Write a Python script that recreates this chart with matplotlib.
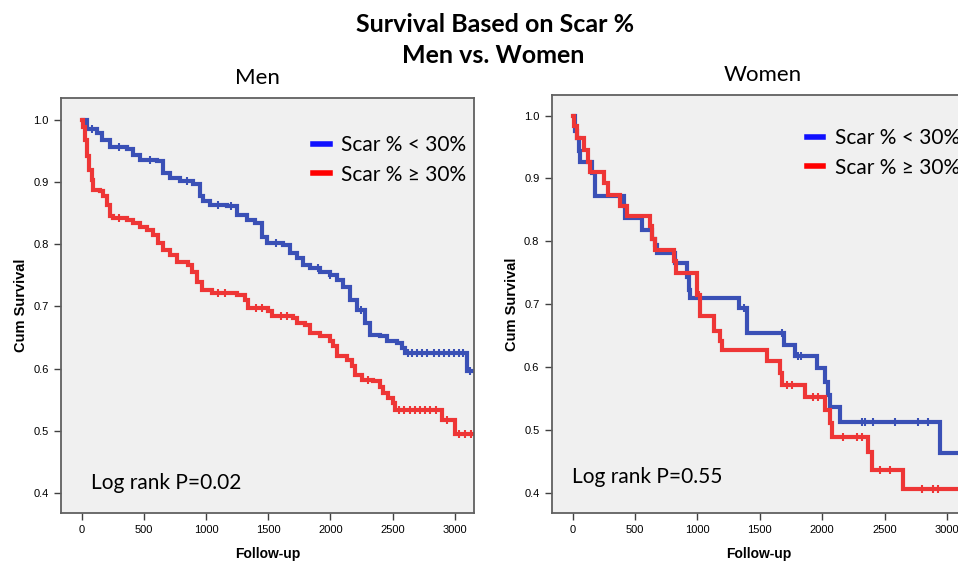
# Kaplan-Meier survival by scar %, men vs women
import numpy as np
import matplotlib.pyplot as plt
from matplotlib.lines import Line2D

# --- Men, scar % < 30%
men_lo_t = [13, 45, 120, 160, 228, 362, 415, 469, 603, 656, 710, 790, 897, 951, 978, 1031,
            1166, 1246, 1326, 1393, 1447, 1487, 1621, 1675, 1728, 1782, 1835, 1916, 1996, 2050,
            2103, 2157, 2210, 2277, 2317, 2398, 2452, 2532, 2572, 2599, 3095]
men_lo_s = [1.0, 0.985, 0.979, 0.968, 0.957, 0.953, 0.944, 0.936, 0.933, 0.914, 0.906, 0.901,
            0.896, 0.877, 0.869, 0.863, 0.861, 0.847, 0.839, 0.834, 0.812, 0.802, 0.799, 0.786,
            0.778, 0.767, 0.762, 0.756, 0.751, 0.743, 0.732, 0.711, 0.695, 0.673, 0.654, 0.652,
            0.644, 0.641, 0.633, 0.625, 0.597]
men_lo_cens = [80, 300, 550, 850, 1100, 1200, 1560, 1900, 2000, 2250, 2620, 2660, 2700, 2740,
               2780, 2830, 2870, 2910, 2950, 2990, 3030, 3070, 3120]

# --- Men, scar % >= 30%
men_hi_t = [0, 13, 27, 45, 61, 80, 93, 147, 174, 201, 228, 254, 362, 415, 469, 522, 576, 616,
            656, 710, 764, 857, 884, 924, 964, 1045, 1246, 1313, 1340, 1500, 1527, 1701, 1728,
            1795, 1835, 1916, 1996, 2023, 2050, 2130, 2170, 2197, 2251, 2344, 2398, 2425, 2465,
            2505, 2518, 2894, 3001]
men_hi_s = [1.0, 0.989, 0.968, 0.941, 0.920, 0.904, 0.887, 0.885, 0.877, 0.863, 0.845, 0.842,
            0.839, 0.834, 0.828, 0.823, 0.815, 0.802, 0.791, 0.783, 0.772, 0.767, 0.756, 0.740,
            0.727, 0.721, 0.719, 0.711, 0.697, 0.692, 0.684, 0.681, 0.673, 0.670, 0.657, 0.652,
            0.644, 0.636, 0.620, 0.614, 0.604, 0.590, 0.582, 0.580, 0.571, 0.561, 0.553, 0.545,
            0.533, 0.518, 0.495]
men_hi_cens = [300, 1100, 1150, 1400, 1450, 1600, 1650, 2300, 2550, 2590, 2640, 2680, 2720,
               2760, 2800, 2850, 2940, 3030, 3080, 3130]

# --- Women, scar % < 30%
wom_lo_t = [14, 22, 35, 48, 62, 155, 182, 408, 422, 555, 635, 662, 676, 822, 916, 929, 942,
            1337, 1396, 1690, 1783, 1957, 2023, 2050, 2063, 2143, 2943]
wom_lo_s = [1.0, 0.975, 0.964, 0.943, 0.927, 0.909, 0.872, 0.856, 0.837, 0.818, 0.803, 0.795,
            0.781, 0.765, 0.744, 0.723, 0.710, 0.694, 0.654, 0.635, 0.617, 0.598, 0.577, 0.556,
            0.537, 0.513, 0.463]
wom_lo_cens = [1370, 1676, 1810, 1828, 2316, 2343, 2410, 2584, 2771, 2851]

# --- Women, scar % >= 30%
wom_hi_t = [3, 14, 35, 88, 120, 136, 248, 280, 382, 435, 622, 635, 662, 809, 830, 996, 1017,
            1129, 1182, 1196, 1556, 1663, 1676, 1863, 2023, 2063, 2076, 2370, 2397, 2650]
wom_hi_s = [1.0, 0.983, 0.964, 0.946, 0.927, 0.911, 0.893, 0.874, 0.856, 0.840, 0.824, 0.803,
            0.787, 0.768, 0.750, 0.715, 0.681, 0.658, 0.641, 0.627, 0.609, 0.590, 0.572, 0.553,
            0.532, 0.511, 0.489, 0.465, 0.436, 0.406]
wom_hi_cens = [1010, 1716, 1756, 1930, 1970, 2170, 2277, 2317, 2464, 2544, 2797, 2890, 2930]

blue = '#3a50b6'
red = '#ee3636'
label_lo = 'Scar % < 30%'
label_hi = 'Scar % \u2265 30%'


def km_curve(ax, t, s, cens, t_end, color):
    tt = list(t) + [t_end]
    ss = list(s) + [s[-1]]
    ax.step(tt, ss, where='post', color=color, lw=3.0, solid_joinstyle='miter')
    idx = np.searchsorted(t, cens, side='right') - 1
    cs = np.array(s)[idx]
    ax.plot(cens, cs, ls='none', marker='|', ms=6, mew=1.5, color=color)


def style_axes(ax, xmax, ymax):
    ax.set_facecolor('#f0f0f0')
    ax.set_xlim(-166, xmax)
    ax.set_ylim(0.368, ymax)
    ax.set_xticks([0, 500, 1000, 1500, 2000, 2500, 3000])
    ax.set_yticks([0.4, 0.5, 0.6, 0.7, 0.8, 0.9, 1.0])
    ax.yaxis.set_major_formatter(plt.FormatStrFormatter('%.1f'))
    for sp in ax.spines.values():
        sp.set_color('#606060')
        sp.set_linewidth(1.3)
    ax.tick_params(length=5, width=1.0, color='#404040', labelsize=8, pad=4)
    for lab in ax.get_xticklabels() + ax.get_yticklabels():
        lab.set_fontfamily('Liberation Sans')
    ax.set_xlabel('Follow-up', fontsize=10, fontweight='bold',
                  fontfamily='Liberation Sans', labelpad=8)
    ax.set_ylabel('Cum Survival', fontsize=10.5, fontweight='bold',
                  fontfamily='Liberation Sans', labelpad=4)


fig = plt.figure(figsize=(9.58, 5.62), dpi=100)
ax1 = fig.add_axes([0.0637, 0.0872, 0.431, 0.7384])
ax2 = fig.add_axes([0.5762, 0.0872, 0.431, 0.744])

km_curve(ax1, men_lo_t, men_lo_s, men_lo_cens, 3154, blue)
km_curve(ax1, men_hi_t, men_hi_s, men_hi_cens, 3154, red)
km_curve(ax2, wom_lo_t, wom_lo_s, wom_lo_cens, 3160, blue)
km_curve(ax2, wom_hi_t, wom_hi_s, wom_hi_cens, 3160, red)

style_axes(ax1, 3154, 1.035)
style_axes(ax2, 3144, 1.033)

handles = [Line2D([], [], color='#1010ff', lw=4), Line2D([], [], color='#ff0000', lw=4)]
for ax, (bx, by) in [(ax1, (0.61, 0.91)), (ax2, (0.617, 0.92))]:
    ax.legend(handles, [label_lo, label_hi], loc='upper left', bbox_to_anchor=(bx, by),
              frameon=False, borderaxespad=0, borderpad=0, handlelength=0.8,
              handletextpad=0.55, labelspacing=0.45, prop={'family': 'Lato', 'size': 15})

ax1.text(0.073, 0.072, 'Log rank P=0.02', transform=ax1.transAxes, fontsize=15,
         fontfamily='Lato', va='center', ha='left')
ax2.text(0.048, 0.086, 'Log rank P=0.55', transform=ax2.transAxes, fontsize=15,
         fontfamily='Lato', va='center', ha='left')

fig.text(0.517, 0.957, 'Survival Based on Scar %', ha='center', va='center',
         fontsize=18, fontweight='bold', fontfamily='Lato')
fig.text(0.515, 0.901, 'Men vs. Women', ha='center', va='center',
         fontsize=18, fontweight='bold', fontfamily='Lato')
fig.text(0.269, 0.861, 'Men', ha='center', va='center', fontsize=16, fontfamily='Lato')
fig.text(0.796, 0.866, 'Women', ha='center', va='center', fontsize=16, fontfamily='Lato')

plt.savefig('out.png', dpi=100)
